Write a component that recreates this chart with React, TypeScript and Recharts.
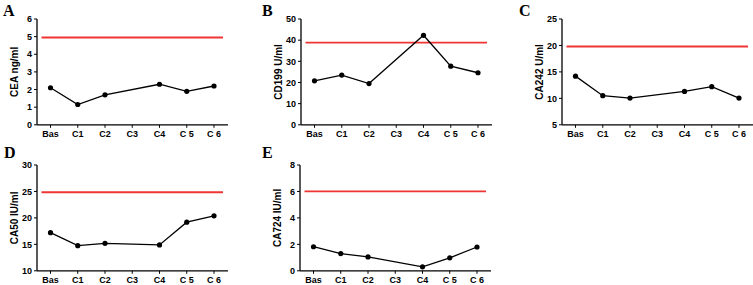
import { LineChart, Line, XAxis, YAxis, ReferenceLine } from "recharts";

const categories = ["Bas", "C1", "C2", "C3", "C4", "C 5", "C 6"];

const ceaValues = [2.1, 1.15, 1.7, null, 2.3, 1.9, 2.2];
const cd199Values = [20.8, 23.5, 19.5, null, 42.3, 27.7, 24.6];
const ca242Values = [14.2, 10.5, 10.05, null, 11.3, 12.2, 10.05];
const ca50Values = [17.2, 14.75, 15.2, null, 14.9, 19.2, 20.4];
const ca724Values = [1.82, 1.3, 1.05, null, 0.3, 0.98, 1.8];

const ceaTicks = [0, 1, 2, 3, 4, 5, 6];
const cd199Ticks = [0, 10, 20, 30, 40, 50];
const ca242Ticks = [5, 10, 15, 20, 25];
const ca50Ticks = [10, 15, 20, 25, 30];
const ca724Ticks = [0, 2, 4, 6, 8];

const cutoffs = { cea: 4.95, cd199: 38.8, ca242: 19.8, ca50: 24.85, ca724: 6 };

const FONT = "'Liberation Sans', Arial, sans-serif";
const RED = "#ef3434";

// plot area geometry (px)
const PLOT_W = 191;
const PLOT_H = 105.8;
const YW = 40;
const TOP_M = 10;
const XH = 24;

type PanelProps = {
  letter: string;
  label: string;
  values: (number | null)[];
  ticks: number[];
  cutoff: number;
  plotLeft: number;
  plotTop: number;
  letterPos: [number, number];
};

function CutoffShape(props: any) {
  const { x1, x2, y1 } = props;
  return <line x1={x1 + 4.5} x2={x2 - 5} y1={y1} y2={y1} stroke={RED} strokeWidth={1.8} />;
}

function Panel({ letter, label, values, ticks, cutoff, plotLeft, plotTop, letterPos }: PanelProps) {
  const data = categories.map((c, i) => ({ name: c, value: values[i] }));
  const width = YW + PLOT_W + 10;
  const height = TOP_M + PLOT_H + XH;
  return (
    <>
      <div
        style={{
          position: "absolute",
          left: letterPos[0],
          top: letterPos[1],
          fontFamily: "'Liberation Serif', 'Times New Roman', serif",
          fontWeight: 700,
          fontSize: 16,
          lineHeight: "16px",
        }}
      >
        {letter}
      </div>
      <div style={{ position: "absolute", left: plotLeft - YW, top: plotTop - TOP_M }}>
        <LineChart width={width} height={height} data={data} margin={{ top: TOP_M, right: 10, left: 0, bottom: 0 }}>
          <XAxis
            dataKey="name"
            height={XH}
            padding={{ left: 13.5, right: 14 }}
            axisLine={{ stroke: "#000", strokeWidth: 1.3 }}
            tickLine={{ stroke: "#000", strokeWidth: 1 }}
            tickSize={3}
            tickMargin={3}
            interval={0}
            tick={{ fill: "#000", fontSize: 9, fontWeight: 700, fontFamily: FONT }}
          />
          <YAxis
            width={YW}
            domain={[ticks[0], ticks[ticks.length - 1]]}
            ticks={ticks}
            interval={0}
            axisLine={{ stroke: "#000", strokeWidth: 1.3 }}
            tickLine={{ stroke: "#000", strokeWidth: 1 }}
            tickSize={3}
            tickMargin={2}
            tick={{ fill: "#000", fontSize: 9, fontWeight: 700, fontFamily: FONT }}
            label={{
              value: label,
              angle: -90,
              position: "insideLeft",
              offset: 17,
              style: { textAnchor: "middle", fontSize: 10, fontWeight: 700, fontFamily: FONT, fill: "#000" },
            }}
          />
          <ReferenceLine y={cutoff} shape={CutoffShape} ifOverflow="extendDomain" />
          <Line
            type="linear"
            dataKey="value"
            stroke="#000"
            strokeWidth={1.3}
            connectNulls
            dot={{ r: 2.6, fill: "#000", stroke: "#000", strokeWidth: 0 }}
            isAnimationActive={false}
          />
        </LineChart>
      </div>
    </>
  );
}

export default function App() {
  return (
    <div style={{ position: "absolute", left: 0, top: 0, width: 753, height: 285, background: "#fff", overflow: "hidden" }}>
      <Panel letter="A" label="CEA ng/ml" values={ceaValues} ticks={ceaTicks} cutoff={cutoffs.cea} plotLeft={37} plotTop={18.5} letterPos={[3, 3]} />
      <Panel letter="B" label="CD199 U/ml" values={cd199Values} ticks={cd199Ticks} cutoff={cutoffs.cd199} plotLeft={300.5} plotTop={18.5} letterPos={[262, 3]} />
      <Panel letter="C" label="CA242 U/ml" values={ca242Values} ticks={ca242Ticks} cutoff={cutoffs.ca242} plotLeft={561.5} plotTop={18.5} letterPos={[519, 3]} />
      <Panel letter="D" label="CA50 IU/ml" values={ca50Values} ticks={ca50Ticks} cutoff={cutoffs.ca50} plotLeft={37} plotTop={165} letterPos={[4, 145]} />
      <Panel letter="E" label="CA724 IU/ml" values={ca724Values} ticks={ca724Ticks} cutoff={cutoffs.ca724} plotLeft={300} plotTop={165} letterPos={[262, 145]} />
    </div>
  );
}
